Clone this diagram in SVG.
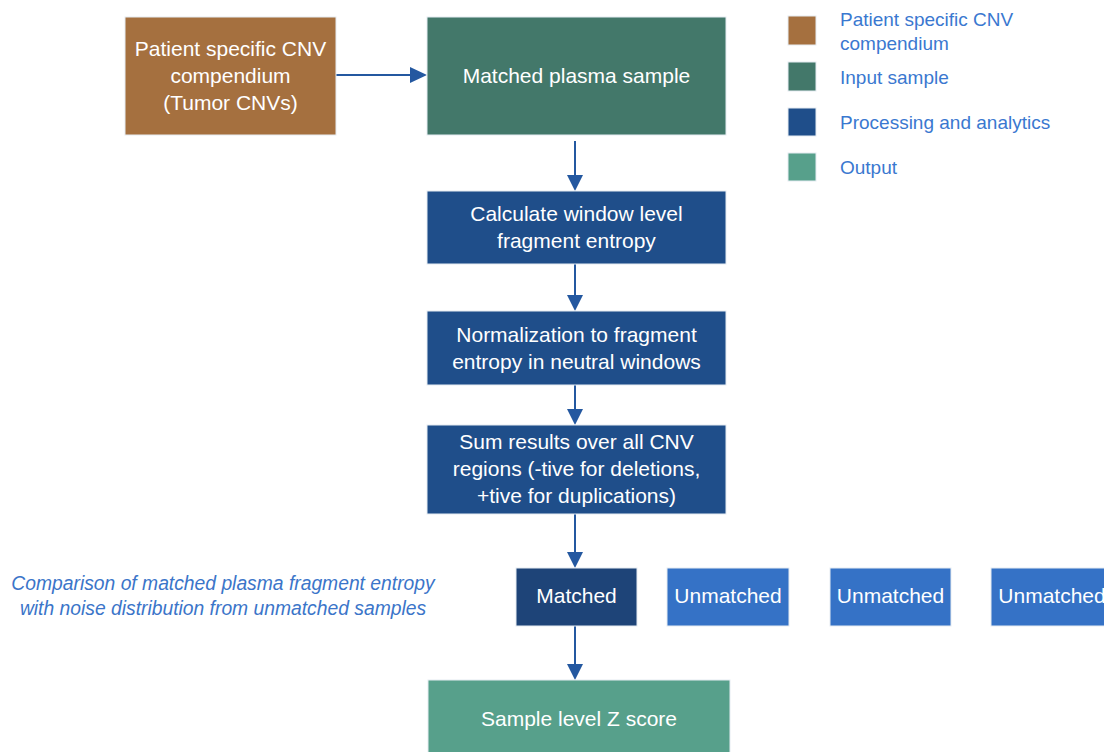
<svg xmlns="http://www.w3.org/2000/svg" width="1104" height="752" viewBox="0 0 1104 752">
  <style>
    .box { stroke: #e6ecf2; stroke-width: 1; }
    .lbl { font-family: "Liberation Sans", Arial, sans-serif; font-size: 21px; fill: #ffffff; text-anchor: middle; }
    .leg { font-family: "Liberation Sans", Arial, sans-serif; font-size: 19px; fill: #3a78d0; }
    .note { font-family: "Liberation Sans", Arial, sans-serif; font-size: 19.3px; font-style: italic; fill: #3b75c9; text-anchor: middle; }
    .wire { stroke: #2458a0; stroke-width: 2; fill: none; }
    .tip { fill: #2458a0; }
    .cnv { fill: #a5703f; }
    .input { fill: #43786a; }
    .proc { fill: #1f4e8a; }
    .matched { fill: #1e4478; }
    .unmatched { fill: #3572c6; }
    .out { fill: #57a08b; }
  </style>
  <rect width="1104" height="752" fill="#ffffff"/>

  <!-- connectors: shaft plus filled triangular head -->
  <g id="connectors">
    <line class="wire" x1="336" y1="75" x2="412" y2="75"/>
    <path class="tip" d="M410,67 L427,75 L410,83 Z"/>
    <line class="wire" x1="575" y1="141" x2="575" y2="176"/>
    <path class="tip" d="M567,175 L575,191 L583,175 Z"/>
    <line class="wire" x1="575" y1="264" x2="575" y2="296"/>
    <path class="tip" d="M567,295 L575,311 L583,295 Z"/>
    <line class="wire" x1="575" y1="385" x2="575" y2="410"/>
    <path class="tip" d="M567,409 L575,425 L583,409 Z"/>
    <line class="wire" x1="575" y1="514" x2="575" y2="553"/>
    <path class="tip" d="M567,552 L575,568 L583,552 Z"/>
    <line class="wire" x1="575" y1="626" x2="575" y2="665"/>
    <path class="tip" d="M567,664 L575,680 L583,664 Z"/>
  </g>

  <!-- nodes -->
  <g id="cnv-compendium">
    <rect class="box cnv" x="125" y="17" width="211" height="118"/>
    <text class="lbl" x="230.5" y="56">Patient specific CNV</text>
    <text class="lbl" x="230.5" y="83">compendium</text>
    <text class="lbl" x="230.5" y="110">(Tumor CNVs)</text>
  </g>
  <g id="plasma-sample">
    <rect class="box input" x="427" y="17" width="299" height="118"/>
    <text class="lbl" x="576.5" y="83">Matched plasma sample</text>
  </g>
  <g id="window-entropy">
    <rect class="box proc" x="427" y="191" width="299" height="73"/>
    <text class="lbl" x="576.5" y="221">Calculate window level</text>
    <text class="lbl" x="576.5" y="248">fragment entropy</text>
  </g>
  <g id="normalization">
    <rect class="box proc" x="427" y="311" width="299" height="74"/>
    <text class="lbl" x="576.5" y="342">Normalization to fragment</text>
    <text class="lbl" x="576.5" y="369">entropy in neutral windows</text>
  </g>
  <g id="sum-results">
    <rect class="box proc" x="427" y="425" width="299" height="89"/>
    <text class="lbl" x="576.5" y="449">Sum results over all CNV</text>
    <text class="lbl" x="576.5" y="476">regions (-tive for deletions,</text>
    <text class="lbl" x="576.5" y="503">+tive for duplications)</text>
  </g>
  <g id="matched">
    <rect class="box matched" x="516" y="568" width="121" height="58"/>
    <text class="lbl" x="576.5" y="603">Matched</text>
  </g>
  <g id="unmatched-1">
    <rect class="box unmatched" x="667" y="568" width="122" height="58"/>
    <text class="lbl" x="728" y="603">Unmatched</text>
  </g>
  <g id="unmatched-2">
    <rect class="box unmatched" x="830" y="568" width="121" height="58"/>
    <text class="lbl" x="890.5" y="603">Unmatched</text>
  </g>
  <g id="unmatched-3">
    <rect class="box unmatched" x="991" y="568" width="122" height="58"/>
    <text class="lbl" x="1052" y="603">Unmatched</text>
  </g>
  <g id="z-score">
    <rect class="box out" x="428" y="680" width="302" height="80"/>
    <text class="lbl" x="579" y="726">Sample level Z score</text>
  </g>

  <!-- comparison note -->
  <g id="comparison-note">
    <text class="note" x="223" y="590">Comparison of matched plasma fragment entropy</text>
    <text class="note" x="223" y="615">with noise distribution from unmatched samples</text>
  </g>

  <!-- legend -->
  <g id="legend">
    <rect class="box cnv" x="788" y="16" width="28" height="29"/>
    <text class="leg" x="840" y="26">Patient specific CNV</text>
    <text class="leg" x="840" y="50">compendium</text>
    <rect class="box input" x="788" y="62" width="28" height="29"/>
    <text class="leg" x="840" y="84">Input sample</text>
    <rect class="box proc" x="788" y="108" width="28" height="28"/>
    <text class="leg" x="840" y="129">Processing and analytics</text>
    <rect class="box out" x="788" y="153" width="28" height="28"/>
    <text class="leg" x="840" y="174">Output</text>
  </g>
</svg>
